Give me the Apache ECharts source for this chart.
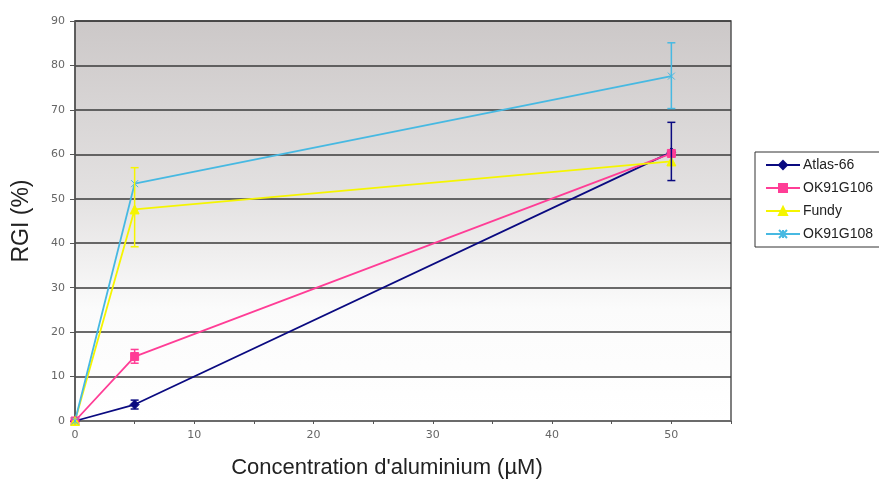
<!DOCTYPE html>
<html>
<head>
<meta charset="utf-8">
<script src="https://cdn.jsdelivr.net/npm/echarts@6/dist/echarts.min.js"></script>
<style>
  html, body { margin: 0; padding: 0; background: #fff; }
  #chart { width: 879px; height: 481px; }
</style>
</head>
<body>
<div id="chart"></div>
<script>
// concentrations (µM)
const conc = [0, 5, 50]

// RGI (%) per cultivar
const atlas = [0, 3.7, 60.5]
const ok106 = [0, 14.5, 60.2]
const fundy = [0, 47.6, 58.4]
const ok108 = [0, 53.4, 77.6]

// error bars: [x, low, high]
const atlasErr = [[5, 2.7, 4.7], [50, 54.1, 67.2]]
const ok106Err = [[5, 13.0, 16.1]]
const fundyErr = [[5, 39.2, 57.0]]
const ok108Err = [[50, 70.3, 85.1]]

const names = ["Atlas-66", "OK91G106", "Fundy", "OK91G108"]
const colors = ["#0a0a80", "#ff3d96", "#f5f500", "#47b9e2"]

const chart = echarts.init(document.getElementById("chart"))

const pairs = (ys) => conc.map((x, i) => [x, ys[i]])

// barres d'erreur avec petites traverses
const errSeries = (data, color) => ({
  type: "custom",
  data,
  silent: true,
  z: 5,
  renderItem: (params, api) => {
    const top = api.coord([api.value(0), api.value(2)])
    const bot = api.coord([api.value(0), api.value(1)])
    const w = 4
    const style = { stroke: color, lineWidth: 1.5 }
    return {
      type: "group",
      children: [
        { type: "line", shape: { x1: top[0], y1: top[1], x2: bot[0], y2: bot[1] }, style },
        { type: "line", shape: { x1: top[0] - w, y1: top[1], x2: top[0] + w, y2: top[1] }, style },
        { type: "line", shape: { x1: bot[0] - w, y1: bot[1], x2: bot[0] + w, y2: bot[1] }, style },
      ],
    }
  },
})

const lineSeries = (name, ys, color, symbol, size) => ({
  name,
  type: "line",
  data: pairs(ys),
  symbol,
  symbolSize: size,
  showAllSymbol: true,
  lineStyle: { color, width: 1.8 },
  itemStyle: { color, borderColor: color, borderWidth: 1 },
  z: 4,
})

const option = {
  animation: false,
  grid: {
    left: 75,
    top: 21,
    right: 148,
    bottom: 60,
    outerBoundsMode: "none",
    show: true,
    borderColor: "#555",
    borderWidth: 1.5,
    backgroundColor: new echarts.graphic.LinearGradient(0, 0, 0, 1, [
      { offset: 0, color: "#ccc8c8" },
      { offset: 0.45, color: "#e4e2e2" },
      { offset: 0.72, color: "#fbfbfb" },
      { offset: 1, color: "#ffffff" },
    ]),
  },
  legend: {
    orient: "vertical",
    left: 755,
    top: 152,
    itemWidth: 34,
    itemHeight: 10,
    itemGap: 9,
    padding: [6, 40, 6, 10],
    borderColor: "#333",
    borderWidth: 1,
    backgroundColor: "#fff",
    textStyle: { fontFamily: "Liberation Sans", fontSize: 14, color: "#222", padding: [0, 0, 0, -2] },
    data: names,
  },
  xAxis: {
    type: "value",
    min: 0,
    max: 55,
    interval: 5,
    name: "Concentration d'aluminium (µM)",
    nameLocation: "middle",
    nameGap: 36,
    nameTextStyle: { fontFamily: "Liberation Sans", fontSize: 22, color: "#222", padding: [0, 32, 0, 0] },
    axisLine: { show: true, lineStyle: { color: "#777", width: 1.5 } },
    axisTick: { show: true, length: 3, lineStyle: { color: "#555" } },
    axisLabel: {
      fontFamily: "DejaVu Sans",
      fontSize: 11,
      color: "#666",
      margin: 9,
      formatter: (v) => (v % 10 === 0 && v <= 50 ? String(v) : ""),
    },
    splitLine: { show: false },
  },
  yAxis: {
    type: "value",
    min: 0,
    max: 90,
    interval: 10,
    name: "RGI (%)",
    nameLocation: "middle",
    nameGap: 42,
    nameTextStyle: { fontFamily: "Liberation Sans", fontSize: 23, color: "#222" },
    axisLine: { show: true, lineStyle: { color: "#555", width: 1.5 } },
    axisTick: { show: true, length: 5, lineStyle: { color: "#555" } },
    axisLabel: { fontFamily: "DejaVu Sans", fontSize: 11, color: "#666", margin: 10 },
    splitLine: { show: true, lineStyle: { color: "#3a3a3a", width: 1.6 } },
  },
  series: [
    lineSeries(names[0], atlas, colors[0], "diamond", 9),
    lineSeries(names[1], ok106, colors[1], "rect", 8),
    lineSeries(names[2], fundy, colors[2], "triangle", 9),
    lineSeries(names[3], ok108, colors[3], "path://M0,0L10,10M10,0L0,10M5,0L5,10", 7),
    errSeries(atlasErr, colors[0]),
    errSeries(ok106Err, colors[1]),
    errSeries(fundyErr, colors[2]),
    errSeries(ok108Err, colors[3]),
  ],
}

chart.setOption(option)
</script>
</body>
</html>
